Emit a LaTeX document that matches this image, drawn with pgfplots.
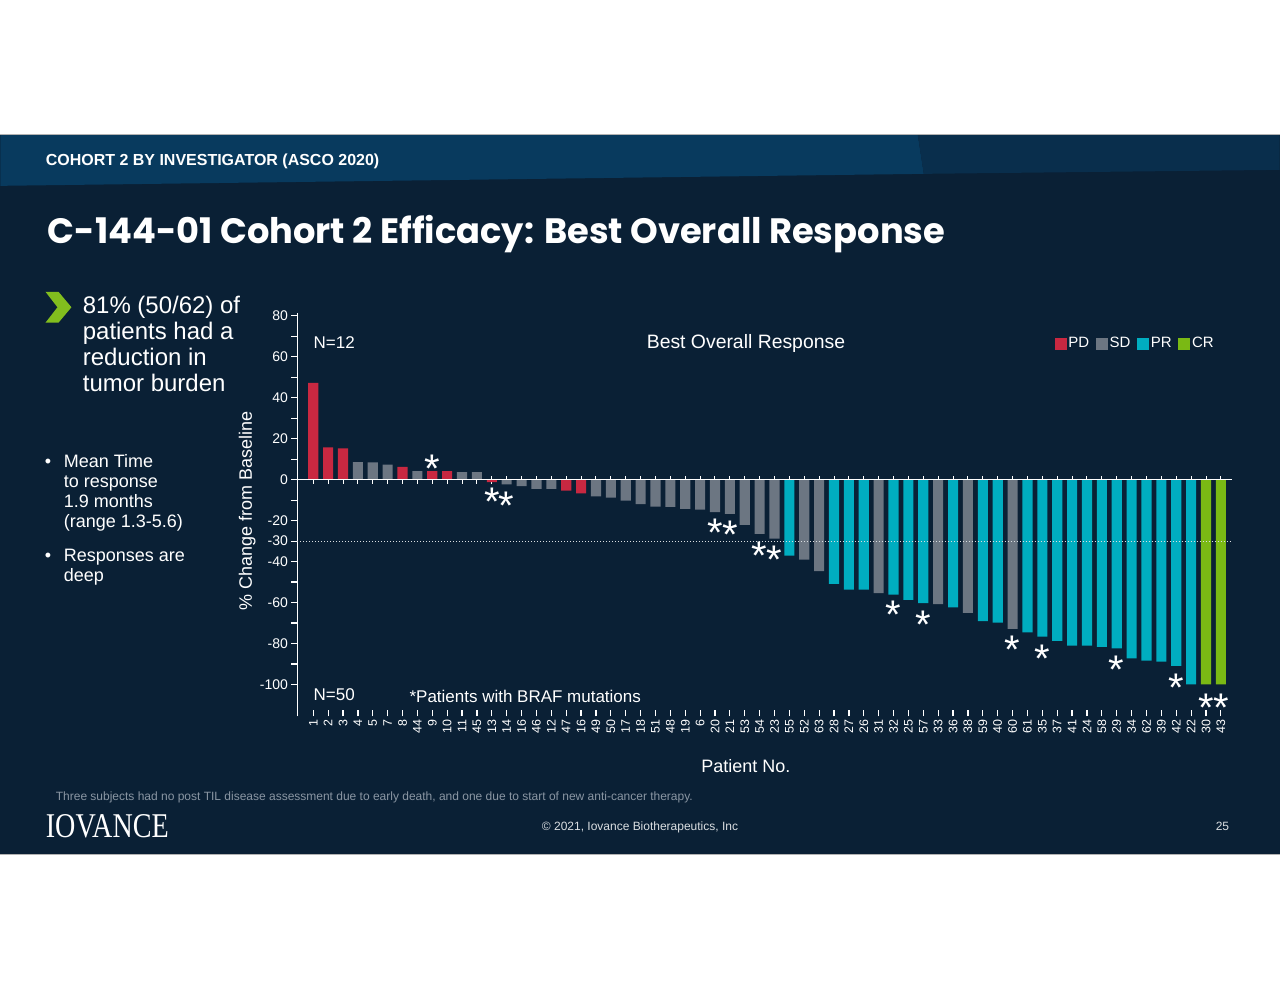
\documentclass[border=0pt]{standalone}
\usepackage{pgfplots}
\pgfplotsset{compat=1.18}
\usepackage{pgfplotstable}
\usepackage{fontspec}
\setmainfont{Liberation Sans}
\newfontfamily\titlefont{Poppins}
\newfontfamily\logofont{Liberation Serif}
\definecolor{bg}{RGB}{10,32,53}
\definecolor{hdr}{RGB}{8,58,94}
\definecolor{hdrb}{RGB}{9,46,76}
\definecolor{pdc}{RGB}{200,40,65}
\definecolor{sdc}{RGB}{108,118,130}
\definecolor{prc}{RGB}{0,173,192}
\definecolor{crc}{RGB}{122,185,20}
\definecolor{chev}{RGB}{130,190,30}
\definecolor{foot}{RGB}{138,150,163}

\pgfplotstableread{
x y
1 47.2
2 15.8
3 15.3
7 6.3
9 4.2
10 4.2
13 -1.2
18 -5.4
19 -6.7
}\pddata
\pgfplotstableread{
x y
4 8.6
5 8.4
6 7.3
8 4.2
11 3.7
12 3.7
14 -2.3
15 -3.2
16 -4.5
17 -4.5
20 -8.1
21 -8.8
22 -10.2
23 -11.9
24 -13.2
25 -13.3
26 -14.3
27 -14.6
28 -15.9
29 -16.7
30 -22.1
31 -26.5
32 -28.8
34 -39.0
35 -44.7
39 -55.4
43 -60.8
45 -65.0
48 -72.8
}\sddata
\pgfplotstableread{
x y
33 -37.1
36 -50.9
37 -53.7
38 -53.7
40 -56.1
41 -58.7
42 -60.3
44 -62.4
46 -69.1
47 -69.8
49 -74.6
50 -76.6
51 -78.7
52 -81.0
53 -81.0
54 -81.6
55 -82.4
56 -87.3
57 -88.3
58 -88.9
59 -90.9
60 -100
}\prdata
\pgfplotstableread{
x y
61 -100
62 -100
}\crdata

\newcommand\myast{{\fontsize{20}{20}\selectfont\smash{\raisebox{-0.58em}{*}}}}

\begin{document}
\begin{tikzpicture}
\begin{scope}[x=0.5pt,y=-0.5pt,shift={(0,494.5pt)}]
\fill[white] (0,0) rectangle (1280,989);
\fill[bg] (0,135) rectangle (1280,855);
\fill[hdr] (0,135) -- (918,135) -- (924,174) -- (0,186) -- cycle;
\fill[hdrb] (918,135) -- (1280,135) -- (1280,170) -- (924,174) -- cycle;
\draw[gray!60, line width=0.5pt] (0,135) -- (1280,135);
\draw[gray!60, line width=0.5pt] (0,855) -- (1280,855);
\node[anchor=base west, inner sep=0, text=white] at (45,166) {\fontsize{8}{8}\selectfont\bfseries COHORT 2 BY INVESTIGATOR (ASCO 2020)};
\node[anchor=base west, inner sep=0, text=white] at (47,244) {\resizebox{449pt}{!}{\titlefont\bfseries C-144-01 Cohort 2 Efficacy: Best Overall Response}};
% chevron
\fill[chev] (45,292) -- (58,292) -- (71,307.5) -- (58,323) -- (45,323) -- (57,307.5) -- cycle;
\foreach \t/\yy in {{81\% (50/62) of}/314, {patients had a}/340, {reduction in}/366, {tumor burden}/392}
  \node[anchor=base west, inner sep=0, text=white] at (82,\yy) {\fontsize{12}{12}\selectfont \t};
\foreach \t/\yy in {{Mean Time}/468, {to response}/488, {1.9 months}/508, {(range 1.3-5.6)}/528, {Responses are}/562, {deep}/582}
  \node[anchor=base west, inner sep=0, text=white] at (63,\yy) {\fontsize{9}{9}\selectfont \t};
\node[anchor=base west, inner sep=0, text=white] at (44,468) {\fontsize{9}{9}\selectfont\textbullet};
\node[anchor=base west, inner sep=0, text=white] at (44,562) {\fontsize{9}{9}\selectfont\textbullet};
% footer
\node[anchor=base west, inner sep=0, text=foot] at (55,801) {\fontsize{6}{6}\selectfont Three subjects had no post TIL disease assessment due to early death, and one due to start of new anti-cancer therapy.};
\node[anchor=base west, inner sep=0, text=white] at (45,838) {\resizebox{61.5pt}{11.5pt}{\logofont IOVANCE}};
\node[anchor=base, inner sep=0, text=white!85!bg] at (640,831) {\fontsize{6}{6}\selectfont \textcopyright\ 2021, Iovance Biotherapeutics, Inc};
\node[anchor=base east, inner sep=0, text=white!85!bg] at (1230,831) {\fontsize{6}{6}\selectfont 25};
\end{scope}

\begin{axis}[
  at={(148.5pt,136pt)}, anchor=south west,
  scale only axis, width=467.75pt, height=202pt,
  xmin=-0.075, xmax=62.75, ymin=-115.6, ymax=81.5,
  axis x line=bottom, axis y line=left,
  axis line style={-, white, line width=0.7pt},
  x axis line style={draw=none},
  xtick={1,...,62},
  xticklabels={1,2,3,4,5,7,8,44,9,10,11,45,13,14,16,46,12,47,16,49,50,17,18,51,48,19,6,20,21,53,54,23,55,52,63,28,27,26,31,32,25,57,33,36,38,59,40,60,61,35,37,41,24,58,29,34,62,39,42,22,30,43},
  xticklabel style={rotate=90, anchor=east, font=\fontsize{6.2}{6.2}\selectfont, text=white, inner sep=1.5pt},
  ytick={-100,-80,-60,-40,-30,-20,0,20,40,60,80},
  minor ytick={-90,-70,-50,-10,10,30,50,70},
  yticklabel style={font=\fontsize{7}{7}\selectfont, text=white, inner sep=1.5pt},
  /pgf/number format/assume math mode=true,
  tick style={white, line width=0.6pt},
  major tick length=3pt, minor tick length=3pt,
  xtick align=inside, ytick align=outside,
  clip=false,
  legend columns=4,
  legend style={at={(0.81,0.922)}, anchor=west, draw=none, fill=none, text=white,
    font=\fontsize{7.5}{7.5}\selectfont, inner sep=0pt,
    nodes={inner sep=0.8pt},
    /tikz/every even column/.append style={column sep=2.6pt}},
  legend image code/.code={\fill[#1] (0pt,-3pt) rectangle (6pt,3pt);},
]
\pgfplotsinvokeforeach{1,...,62}{\draw[white, line width=0.5pt] (axis cs:#1,-2) -- (axis cs:#1,2);}
\addplot[ybar, bar width=0.68, bar shift=0pt, fill=pdc, draw=none] table[x=x,y=y] {\pddata};
\addplot[ybar, bar width=0.68, bar shift=0pt, fill=sdc, draw=none] table[x=x,y=y] {\sddata};
\addplot[ybar, bar width=0.68, bar shift=0pt, fill=prc, draw=none] table[x=x,y=y] {\prdata};
\addplot[ybar, bar width=0.68, bar shift=0pt, fill=crc, draw=none] table[x=x,y=y] {\crdata};
\legend{PD,SD,PR,CR}
\addplot[white, line width=0.8pt, forget plot] coordinates {(-0.075,0) (62.75,0)};
\addplot[white!85!bg, densely dotted, line width=0.5pt, forget plot] coordinates {(-0.075,-30) (62.75,-30)};
% asterisks
\node[inner sep=0, text=white] at (axis cs:9,9.8) {\myast};
\node[inner sep=0, text=white] at (axis cs:13,-6.0) {\myast};
\node[inner sep=0, text=white] at (axis cs:14,-8.3) {\myast};
\node[inner sep=0, text=white] at (axis cs:28,-21.1) {\myast};
\node[inner sep=0, text=white] at (axis cs:29,-22.4) {\myast};
\node[inner sep=0, text=white] at (axis cs:31,-32.5) {\myast};
\node[inner sep=0, text=white] at (axis cs:32,-34.6) {\myast};
\node[inner sep=0, text=white] at (axis cs:40,-61.3) {\myast};
\node[inner sep=0, text=white] at (axis cs:42,-66.0) {\myast};
\node[inner sep=0, text=white] at (axis cs:48,-78.5) {\myast};
\node[inner sep=0, text=white] at (axis cs:50,-82.6) {\myast};
\node[inner sep=0, text=white] at (axis cs:55,-88.3) {\myast};
\node[inner sep=0, text=white] at (axis cs:59,-97.1) {\myast};
\node[inner sep=0, text=white] at (axis cs:61,-107) {\myast};
\node[inner sep=0, text=white] at (axis cs:62,-107) {\myast};
\node[anchor=west, inner sep=0, text=white] at (axis description cs:0.0171,0.925) {\fontsize{8.5}{8.5}\selectfont N=12};
\node[anchor=west, inner sep=0, text=white] at (axis description cs:0.0171,0.054) {\fontsize{8.5}{8.5}\selectfont N=50};
\node[anchor=west, inner sep=0, text=white] at (axis description cs:0.1197,0.049) {\fontsize{8.5}{8.5}\selectfont *Patients with BRAF mutations};
\node[inner sep=0, text=white] at (axis description cs:0.48,0.925) {\fontsize{9.7}{9.7}\selectfont Best Overall Response};
\node[inner sep=0, text=white] at (axis description cs:0.48,-0.122) {\fontsize{9}{9}\selectfont Patient No.};
\node[rotate=90, inner sep=0, text=white] at (axis description cs:-0.0535,0.51) {\fontsize{9}{9}\selectfont \% Change from Baseline};
\end{axis}
\end{tikzpicture}
\end{document}
